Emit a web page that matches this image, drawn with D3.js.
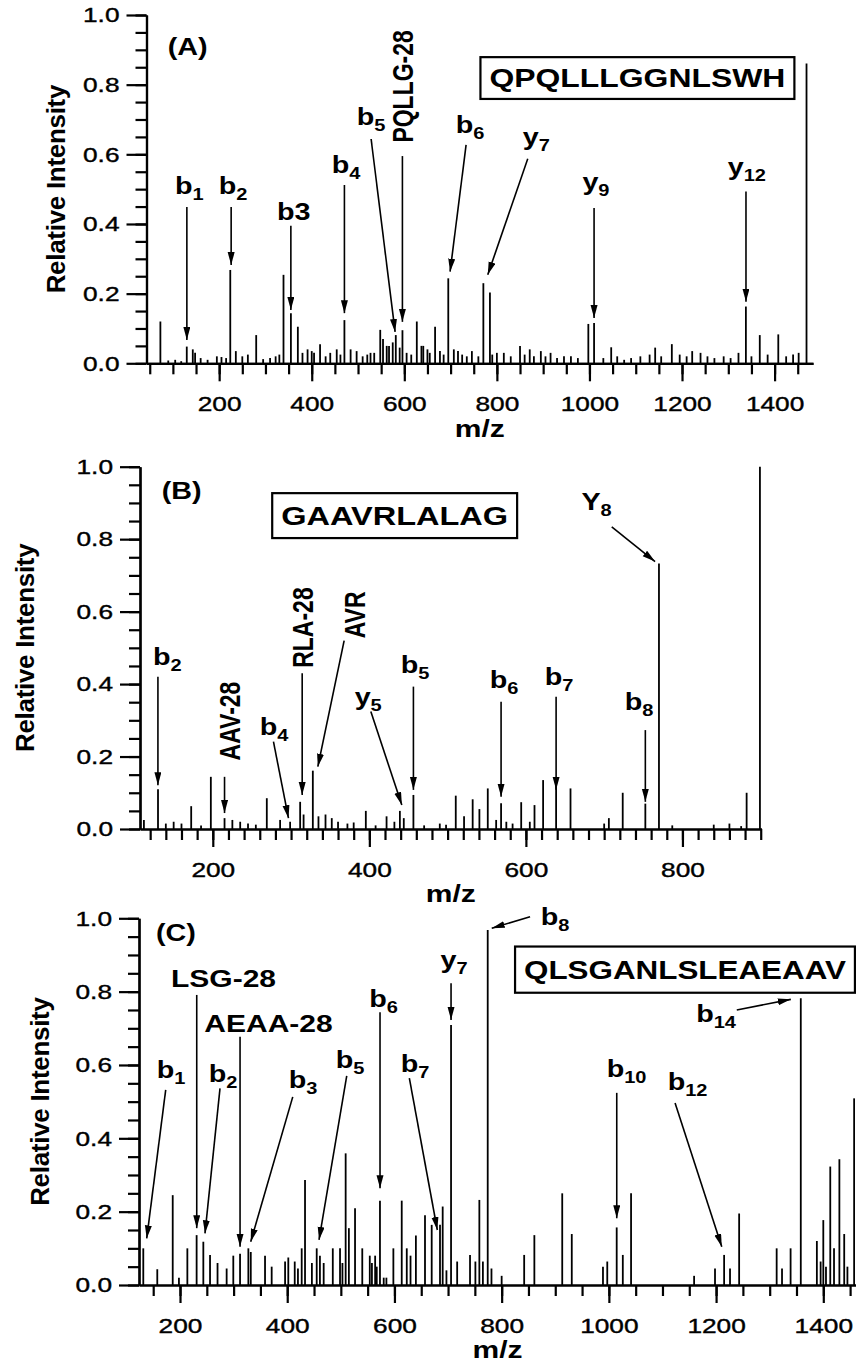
<!DOCTYPE html>
<html>
<head>
<meta charset="utf-8">
<script src="https://d3js.org/d3.v7.min.js"></script>
<style>
  body { margin: 0; background: #fff; }
  svg { display: block; }
  text { font-family: "Liberation Sans", Arial, sans-serif; fill: #000; }
</style>
</head>
<body>
<div id="chart"></div>
<script>
// ---- data: [m/z, relative intensity] ----
const peaksA = [
  [73, 0.12], [130, 0.048], [143, 0.04], [148, 0.03], [224, 0.268], [236, 0.035], [280, 0.081],
  [339, 0.254], [355, 0.144], [370, 0.105], [391, 0.04], [418, 0.055], [454, 0.04], [470.6, 0.124],
  [484, 0.04], [497, 0.035], [527, 0.03], [548, 0.096], [554, 0.07], [562, 0.05], [567, 0.05],
  [581.6, 0.081], [596, 0.095], [627, 0.12], [637, 0.05], [641, 0.05], [666.5, 0.105], [677, 0.035],
  [695, 0.244], [707, 0.04], [716, 0.035], [746, 0.035], [770.8, 0.23], [785, 0.203], [800, 0.03],
  [815, 0.03], [850, 0.05], [871, 0.04], [895, 0.035], [916, 0.03], [997.6, 0.113], [1010, 0.116],
  [1047, 0.046], [1060, 0.02], [1142, 0.045], [1178, 0.055], [1222, 0.035], [1240, 0.03],
  [1322, 0.03], [1338, 0.163], [1368, 0.081], [1408, 0.083], [1452, 0.03], [1469, 0.861]
];
const noiseA = [
  [90, 0.008], [105, 0.01], [118, 0.006], [160, 0.015], [175, 0.01], [195, 0.02], [205, 0.018],
  [215, 0.015], [250, 0.02], [262, 0.025], [295, 0.012], [310, 0.015], [322, 0.02], [330, 0.025],
  [380, 0.03], [400, 0.035], [405, 0.03], [430, 0.02], [440, 0.03], [462, 0.025], [510, 0.02],
  [520, 0.025], [535, 0.03], [575, 0.06], [590, 0.045], [605, 0.03], [615, 0.025], [650, 0.04],
  [655, 0.03], [685, 0.025], [725, 0.025], [735, 0.02], [760, 0.02], [790, 0.025], [830, 0.02],
  [860, 0.025], [880, 0.02], [905, 0.02], [930, 0.015], [945, 0.02], [960, 0.02], [975, 0.015],
  [1030, 0.015], [1075, 0.01], [1090, 0.015], [1110, 0.02], [1130, 0.025], [1155, 0.02],
  [1195, 0.025], [1210, 0.02], [1255, 0.02], [1270, 0.015], [1290, 0.02], [1305, 0.015],
  [1350, 0.02], [1385, 0.025], [1425, 0.02], [1440, 0.025]
];
const peaksB = [
  [112, 0.025], [130, 0.11], [140, 0.015], [150, 0.02], [160, 0.015], [172.4, 0.063], [185, 0.01],
  [197.5, 0.144], [215, 0.03], [225, 0.025], [235, 0.02], [245, 0.015], [255, 0.012], [269, 0.085],
  [286, 0.025], [298.8, 0.02], [311.6, 0.075], [316, 0.04], [327.8, 0.161], [335, 0.035], [344, 0.04],
  [352, 0.03], [360, 0.02], [372, 0.015], [380, 0.018], [395.5, 0.05], [408, 0.01], [422, 0.035],
  [432, 0.02], [439, 0.05], [444, 0.03], [456.3, 0.094], [470, 0.01], [490, 0.015], [498, 0.012],
  [510.4, 0.092], [521, 0.035], [532, 0.082], [540.6, 0.055], [551.3, 0.112], [562, 0.025],
  [568.3, 0.071], [575, 0.02], [583, 0.015], [594, 0.074], [605, 0.02], [611, 0.066], [622, 0.135],
  [638.6, 0.12], [657, 0.112], [700, 0.015], [706, 0.03], [723.7, 0.1], [752.6, 0.07], [770, 0.733],
  [787, 0.01], [840, 0.012], [860, 0.015], [875, 0.008], [882, 0.1], [899, 1.0]
];
const peaksC = [
  [131.5, 0.1], [157.6, 0.043], [186.4, 0.245], [198, 0.02], [213.7, 0.1], [231, 0.136], [243.5, 0.118],
  [256, 0.082], [270, 0.06], [287, 0.045], [299.4, 0.08], [312, 0.085], [327.5, 0.1], [332, 0.09],
  [358.6, 0.08], [371, 0.05], [396, 0.064], [402, 0.075], [414, 0.064], [420, 0.045], [427, 0.1],
  [433.2, 0.286], [446, 0.06], [455, 0.1], [461, 0.08], [468, 0.06], [485, 0.1], [498.5, 0.1],
  [503, 0.06], [509, 0.359], [515, 0.155], [526.5, 0.209], [540, 0.1], [554, 0.08], [558, 0.06],
  [564, 0.08], [567, 0.05], [573, 0.23], [580, 0.02], [585, 0.02], [598, 0.1], [613.6, 0.23],
  [623, 0.1], [630, 0.08], [640, 0.135], [657, 0.19], [669.5, 0.164], [685, 0.164], [690, 0.214],
  [697, 0.04], [705.6, 0.709], [717, 0.064], [741, 0.082], [751, 0.064], [758.4, 0.232], [765, 0.064],
  [774, 0.968], [781, 0.045], [800, 0.025], [842, 0.082], [861, 0.136], [913, 0.25], [930.8, 0.139],
  [989, 0.05], [997, 0.064], [1014.6, 0.157], [1026, 0.082], [1041.4, 0.25], [1159, 0.025],
  [1198, 0.045], [1215, 0.082], [1226, 0.045], [1243, 0.195], [1313, 0.1], [1323, 0.045], [1339, 0.1],
  [1358, 0.782], [1388, 0.12], [1395, 0.064], [1400, 0.177], [1405, 0.05], [1413, 0.323], [1420, 0.1],
  [1430, 0.343], [1439, 0.139], [1445, 0.05], [1457.5, 0.509]
];

const yTicks = [0, 0.2, 0.4, 0.6, 0.8, 1.0];
const xTicksA = [200, 400, 600, 800, 1000, 1200, 1400];
const xTicksB = [200, 400, 600, 800];
const xTicksC = [200, 400, 600, 800, 1000, 1200, 1400];

// annotations: label text, subscript, label anchor (m/z, I), arrow [fromMz, fromI, toMz, toI]
const annotA = [
  { t: "b", s: "1", at: [135.6, 0.486], arrow: [130.2, 0.449, 130.2, 0.067] },
  { t: "b", s: "2", at: [230, 0.486], arrow: [225.9, 0.449, 225.9, 0.282] },
  { t: "b3", s: "", at: [361, 0.411], arrow: [354.9, 0.395, 354.9, 0.153] },
  { t: "b", s: "4", at: [474, 0.546], arrow: [470.6, 0.512, 470.6, 0.144] },
  { t: "b", s: "5", at: [528, 0.684], arrow: [528.3, 0.644, 580.1, 0.09] },
  { t: "PQLLG-28", rot: true, at: [597, 0.795], arrow: [595.9, 0.595, 595.9, 0.119] },
  { t: "b", s: "6", at: [742, 0.661], arrow: [733.5, 0.627, 698.9, 0.263] },
  { t: "y", s: "7", at: [885, 0.627], arrow: [866.7, 0.587, 780.3, 0.254] },
  { t: "y", s: "9", at: [1014, 0.498], arrow: [1010, 0.446, 1010, 0.13] },
  { t: "y", s: "12", at: [1340, 0.54], arrow: [1338.2, 0.493, 1338.2, 0.177] }
];
const annotB = [
  { t: "b", s: "2", at: [141.8, 0.453], arrow: [129.9, 0.42, 129.9, 0.121] },
  { t: "AAV-28", rot: true, at: [222.2, 0.298], arrow: [215, 0.144, 215, 0.044] },
  { t: "b", s: "4", at: [278.4, 0.259], arrow: [277.5, 0.241, 296.7, 0.03] },
  { t: "RLA-28", rot: true, at: [315.5, 0.556], arrow: [314.2, 0.43, 314.2, 0.094] },
  { t: "AVR", rot: true, at: [381.9, 0.591], arrow: [367.8, 0.52, 334.2, 0.172] },
  { t: "y", s: "5", at: [398.5, 0.342], arrow: [401.9, 0.324, 441.5, 0.066] },
  { t: "b", s: "5", at: [458.5, 0.431], arrow: [456.3, 0.393, 456.3, 0.108] },
  { t: "b", s: "6", at: [572.2, 0.389], arrow: [568.3, 0.351, 568.3, 0.089] },
  { t: "b", s: "7", at: [642.4, 0.397], arrow: [638.6, 0.365, 638.6, 0.108] },
  { t: "b", s: "8", at: [744.6, 0.328], arrow: [752.6, 0.273, 752.6, 0.075] },
  { t: "Y", s: "8", at: [690.3, 0.88], arrow: [709.7, 0.834, 765, 0.738] }
];
const annotC = [
  { t: "LSG-28", s: "", at: [281.2, 0.813], arrow: [231.2, 0.791, 231.2, 0.155] },
  { t: "AEAA-28", s: "", at: [365.1, 0.69], arrow: [312, 0.677, 312, 0.104] },
  { t: "b", s: "1", at: [183.2, 0.564], arrow: [173.3, 0.532, 137.9, 0.127] },
  { t: "b", s: "2", at: [280.2, 0.554], arrow: [274.6, 0.536, 246.6, 0.141] },
  { t: "b", s: "3", at: [429.5, 0.537], arrow: [410.3, 0.513, 331.9, 0.118] },
  { t: "b", s: "5", at: [517.2, 0.592], arrow: [511, 0.57, 459.3, 0.123] },
  { t: "b", s: "6", at: [579.7, 0.758], arrow: [573.1, 0.744, 573.1, 0.264] },
  { t: "b", s: "7", at: [638.4, 0.581], arrow: [627.8, 0.564, 680, 0.15] },
  { t: "y", s: "7", at: [711.2, 0.864], arrow: [705.6, 0.823, 705.6, 0.723] },
  { t: "b", s: "8", at: [899.6, 0.982], arrow: [853, 1.004, 781.5, 0.973] },
  { t: "b", s: "10", at: [1033, 0.568], arrow: [1014.7, 0.524, 1014.7, 0.182] },
  { t: "b", s: "12", at: [1146.8, 0.532], arrow: [1123.5, 0.496, 1210.6, 0.104] },
  { t: "b", s: "14", at: [1200, 0.718], arrow: [1238.6, 0.75, 1339.4, 0.779] }
];

// ---- layout (pixels, measured on the picture) ----
const SX = 1.25; // scanned figure is stretched horizontally
const panels = [
  { tag: "(A)", tagAt: [132, 0.908], seq: "QPQLLLGGNLSWH", box: [764.5, 1442.8, 0.879, 0.759],
    peaks: peaksA, noise: noiseA, annot: annotA, ticks: xTicksA, minor: 50,
    dom: [43, 1483], left: 146.5, right: 813, y0: 363.3, y1: 15, titleDx: -91 },
  { tag: "(B)", tagAt: [160.3, 0.933], seq: "GAAVRLALAG", box: [275.9, 588.8, 0.927, 0.803],
    peaks: peaksB, noise: [], annot: annotB, ticks: xTicksB, minor: 20,
    dom: [107, 901], left: 140, right: 761.5, y0: 829, y1: 466.7, titleDx: -115 },
  { tag: "(C)", tagAt: [192.5, 0.96], seq: "QLSGANLSLEAEAAV", box: [825, 1459, 0.923, 0.797],
    peaks: peaksC, noise: [], annot: annotC, ticks: xTicksC, minor: 50,
    dom: [123.5, 1461], left: 139, right: 856, y0: 1285, y1: 918.3, titleDx: -99 }
];

const svg = d3.select("#chart").append("svg")
  .attr("width", 856).attr("height", 1370);

svg.append("defs").append("marker")
  .attr("id", "head").attr("markerUnits", "userSpaceOnUse")
  .attr("markerWidth", 14).attr("markerHeight", 8)
  .attr("refX", 13).attr("refY", 3.5).attr("orient", "auto")
  .append("path").attr("d", "M0,0 L13,3.5 L0,7 Z").attr("fill", "#000");

panels.forEach(p => {
  const x = d3.scaleLinear().domain(p.dom).range([p.left, p.right]);
  const y = d3.scaleLinear().domain([0, 1]).range([p.y0, p.y1]);
  const g = svg.append("g");

  // peaks
  g.append("g").selectAll("line")
    .data(p.noise.concat(p.peaks))
    .join("line")
    .attr("x1", d => x(d[0])).attr("x2", d => x(d[0]))
    .attr("y1", y(0)).attr("y2", d => y(d[1]))
    .attr("stroke", "#000").attr("stroke-width", 1.8);

  // x axis: minor and major ticks
  const minorX = d3.range(Math.ceil(p.dom[0] / p.minor) * p.minor, p.dom[1], p.minor);
  g.append("g").attr("transform", `translate(0,${y(0)})`)
    .call(d3.axisBottom(x).tickValues(minorX).tickSize(11).tickSizeOuter(0).tickFormat(""))
    .call(a => a.selectAll("line,path").attr("stroke-width", 2.2));
  const gx = g.append("g").attr("transform", `translate(0,${y(0)})`)
    .call(d3.axisBottom(x).tickValues(p.ticks).tickSize(18).tickSizeOuter(0).tickPadding(15)
      .tickFormat(d3.format("d")))
    .attr("font-size", 21).attr("font-family", null);
  gx.selectAll("line,path").attr("stroke-width", 2.2);
  gx.selectAll("text").attr("transform", `scale(${SX},1)`)
    .attr("stroke", "#000").attr("stroke-width", 0.4);

  // y axis
  const minorY = d3.range(0, 1.001, 0.05);
  g.append("g").attr("transform", `translate(${p.left},0)`)
    .call(d3.axisLeft(y).tickValues(minorY).tickSize(11).tickSizeOuter(0).tickFormat(""))
    .call(a => a.selectAll("line,path").attr("stroke-width", 2.2));
  const gy = g.append("g").attr("transform", `translate(${p.left},0)`)
    .call(d3.axisLeft(y).tickValues(yTicks).tickSize(20).tickSizeOuter(0).tickFormat(d3.format(".1f")))
    .attr("font-size", 21).attr("font-family", null);
  gy.selectAll("line,path").attr("stroke-width", 2.2);
  gy.selectAll("text").attr("x", null).attr("transform", `translate(-27,0) scale(${SX},1)`)
    .attr("stroke", "#000").attr("stroke-width", 0.4);

  // axis titles
  g.append("text")
    .attr("transform", `translate(${p.left + p.titleDx},${y(0.5)}) rotate(-90)`)
    .attr("text-anchor", "middle").attr("dominant-baseline", "central")
    .attr("font-size", 26).attr("font-weight", "bold").attr("letter-spacing", -0.3)
    .text("Relative Intensity");
  g.append("text")
    .attr("transform", `translate(${(p.left + p.right) / 2},${y(0) + 65}) scale(${SX},1)`)
    .attr("text-anchor", "middle").attr("dominant-baseline", "central")
    .attr("font-size", 24).attr("font-weight", "bold")
    .text("m/z");

  // panel tag
  g.append("text")
    .attr("transform", `translate(${x(p.tagAt[0])},${y(p.tagAt[1])}) scale(${SX},1)`)
    .attr("text-anchor", "middle").attr("dominant-baseline", "central")
    .attr("font-size", 23).attr("font-weight", "bold").text(p.tag);

  // sequence box
  const bx0 = x(p.box[0]), bx1 = x(p.box[1]), by0 = y(p.box[2]), by1 = y(p.box[3]);
  g.append("rect").attr("x", bx0).attr("y", by0)
    .attr("width", bx1 - bx0).attr("height", by1 - by0)
    .attr("fill", "none").attr("stroke", "#000").attr("stroke-width", 2.2);
  g.append("text")
    .attr("x", (bx0 + bx1) / 2).attr("y", (by0 + by1) / 2)
    .attr("text-anchor", "middle").attr("dominant-baseline", "central")
    .attr("font-size", 26).attr("font-weight", "bold")
    .attr("textLength", bx1 - bx0 - 18).attr("lengthAdjust", "spacingAndGlyphs")
    .text(p.seq);

  // annotations
  p.annot.forEach(a => {
    g.append("line")
      .attr("x1", x(a.arrow[0])).attr("y1", y(a.arrow[1]))
      .attr("x2", x(a.arrow[2])).attr("y2", y(a.arrow[3]))
      .attr("stroke", "#000").attr("stroke-width", 1.6)
      .attr("marker-end", "url(#head)");
    if (a.rot) {
      g.append("text")
        .attr("transform", `translate(${x(a.at[0])},${y(a.at[1])}) scale(${SX},1) rotate(-90)`)
        .attr("text-anchor", "middle").attr("dominant-baseline", "central")
        .attr("font-size", 23).attr("font-weight", "bold").text(a.t);
    } else {
      const size = a.t.length > 2 ? 24 : 23;
      const t = g.append("text")
        .attr("transform", `translate(${x(a.at[0])},${y(a.at[1])}) scale(${SX},1)`)
        .attr("text-anchor", "middle")
        .attr("font-size", size).attr("font-weight", "bold");
      t.append("tspan").text(a.t);
      if (a.s) t.append("tspan").attr("font-size", 16).attr("dy", 6).text(a.s);
    }
  });
});
</script>
</body>
</html>
